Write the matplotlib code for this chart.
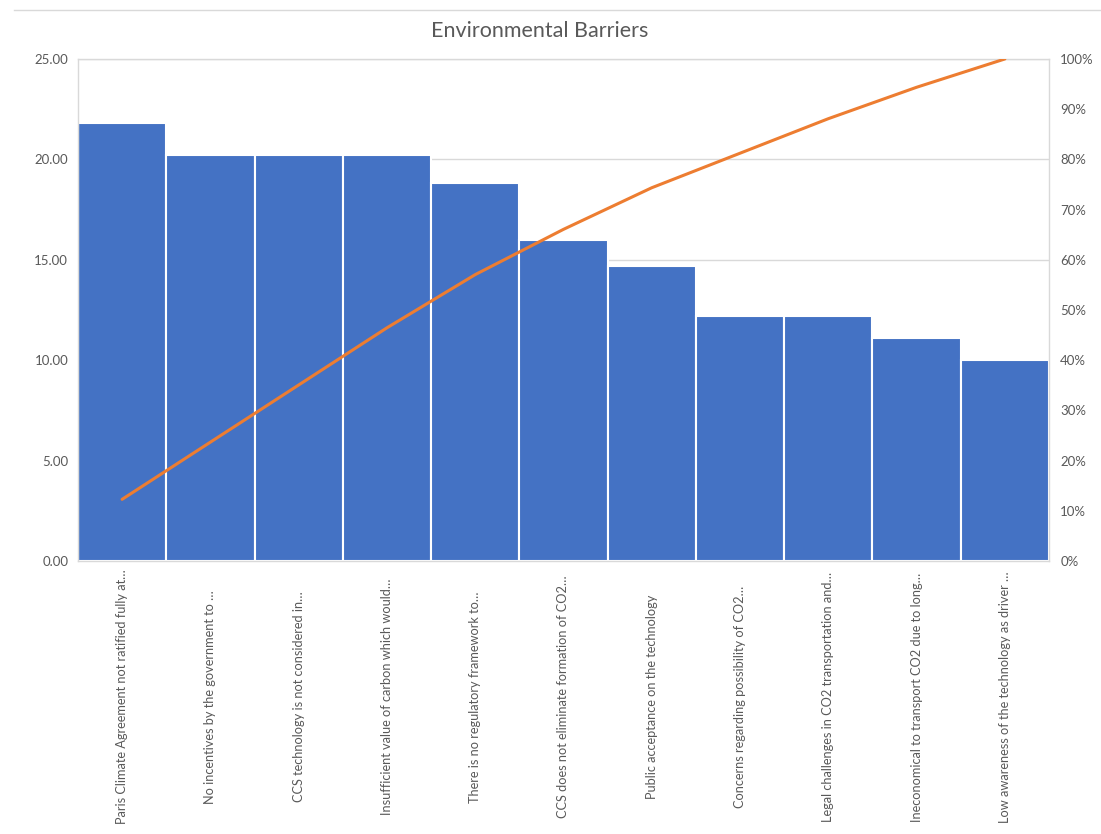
import matplotlib
matplotlib.use("Agg")
import matplotlib.pyplot as plt
import matplotlib.transforms as mtransforms
from matplotlib.lines import Line2D
from matplotlib.ticker import FixedLocator
import numpy as np

plt.rcParams['font.family'] = ['Lato', 'DejaVu Sans']

title = "Environmental Barriers"
barriers = [
    "Paris Climate Agreement not ratified fully at…",
    "No incentives by the government to …",
    "CCS technology is not considered in…",
    "Insufficient value of carbon which would…",
    "There is no regulatory framework to…",
    "CCS does not eliminate formation of CO2…",
    "Public acceptance on the technology",
    "Concerns regarding possibility of CO2…",
    "Legal challenges in CO2 transportation and…",
    "Ineconomical to transport CO2 due to long…",
    "Low awareness of the technology as driver …",
]
scores = [21.8, 20.2, 20.2, 20.2, 18.8, 16.0, 14.7, 12.2, 12.2, 11.1, 10.0]
left_ticks = [0, 5, 10, 15, 20, 25]
right_ticks = [0, 10, 20, 30, 40, 50, 60, 70, 80, 90, 100]

bar_color = "#4472C4"
line_color = "#ED7D31"
text_color = "#595959"
grid_color = "#D9D9D9"

fig = plt.figure(figsize=(11.01, 8.34), dpi=100)
ax = fig.add_axes([0.0708, 0.3273, 0.8820, 0.6020])

x = np.arange(len(scores))
ax.bar(x, scores, width=1.0, color=bar_color, edgecolor="white", linewidth=1.5, zorder=2)
ax.set_xlim(-0.5, len(scores) - 0.5)
ax.set_ylim(0, 25)
ax.yaxis.set_major_locator(FixedLocator(left_ticks))
ax.set_yticklabels([f"{v:.2f}" for v in left_ticks])
ax.grid(axis="y", color=grid_color, linewidth=1, zorder=0)
ax.set_axisbelow(True)
ax.set_xticks(x)
ax.set_xticklabels([""] * len(x))
ax.tick_params(axis="both", length=0, labelsize=9.5, colors=text_color)
ax.tick_params(axis="y", pad=7)
for s in ax.spines.values():
    s.set_color(grid_color)
    s.set_linewidth(1)

# cumulative share on the secondary axis
ax2 = ax.twinx()
cum = np.cumsum(scores) / np.sum(scores) * 100
ax2.plot(x, cum, color=line_color, linewidth=2.2, solid_capstyle="round", zorder=3)
ax2.set_ylim(0, 100)
ax2.yaxis.set_major_locator(FixedLocator(right_ticks))
ax2.set_yticklabels([f"{v}%" for v in right_ticks])
ax2.tick_params(axis="y", length=0, labelsize=9.5, colors=text_color, pad=8)
for s in ax2.spines.values():
    s.set_visible(False)

# rotated category labels centred below the bars
trans = mtransforms.blended_transform_factory(ax.transData, fig.transFigure)
for xi, lab in zip(x, barriers):
    ax.text(xi, 1 - 697 / 834, lab, rotation=90, ha="center", va="center",
            fontsize=9.2, color=text_color, transform=trans, clip_on=False)

fig.text(0.4905, 1 - 31 / 834, title, ha="center", va="center",
         fontsize=15.5, color=text_color)
fig.add_artist(Line2D([14 / 1101, 1.0], [1 - 10 / 834, 1 - 10 / 834],
                      color=grid_color, linewidth=1, transform=fig.transFigure))

fig.savefig("out.png", dpi=100)
